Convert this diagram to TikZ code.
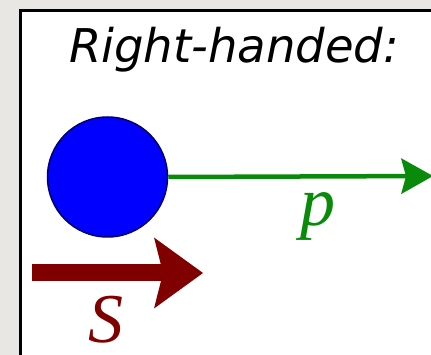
\documentclass[tikz,border=0pt]{standalone}
\usepackage{fontspec}
\usetikzlibrary{arrows.meta}
\newfontfamily\titlefont{DejaVu Sans}
\newfontfamily\labfont{Liberation Serif}
\definecolor{bggray}{HTML}{E9E7E3}
\definecolor{pgreen}{HTML}{0A8A0A}
\definecolor{sred}{HTML}{800000}
\definecolor{ballblue}{HTML}{0000FF}
\definecolor{balledge}{HTML}{000066}
\tikzset{
  titletext/.style={anchor=base, inner sep=0pt, font=\titlefont\itshape\fontsize{46.5}{56}\selectfont},
  labtext/.style={anchor=base, inner sep=0pt, font=\labfont\itshape\fontsize{70}{84}\selectfont},
  ball/.style={circle, inner sep=0pt, minimum size=120pt, fill=ballblue, draw=balledge, line width=1.5pt},
  momentum/.style={draw=pgreen, line width=4.5pt, -{Stealth[length=32pt, width=36pt, inset=5pt, line width=0pt, fill=pgreen]}},
  spinarrow/.style={draw=sred, line width=17pt, -{Stealth[length=49pt, width=71pt, inset=9pt, line width=0pt, fill=sred]}},
}
\begin{document}
\begin{tikzpicture}[x=1pt, y=-1pt]
  \useasboundingbox (0,0) rectangle (431,355);
  \fill[bggray] (0,0) rectangle (431,355);
  \draw[fill=white, line width=3pt] (20.5,10.5) rectangle (445,370);
  \node[titletext] (title) at (234,63) {Right-handed:};
  \node[ball] (particle) at (107.5,177) {};
  \coordinate (ptip) at (433,176);
  \draw[momentum] (particle.east) -- (ptip);
  \node[labtext, text=pgreen] (plabel) at (318,226) {p};
  \coordinate (sstart) at (32,273);
  \coordinate (stip) at (203,273);
  \draw[spinarrow] (sstart) -- (stip);
  \node[labtext, text=sred] (slabel) at (106,342) {S};
\end{tikzpicture}
\end{document}
